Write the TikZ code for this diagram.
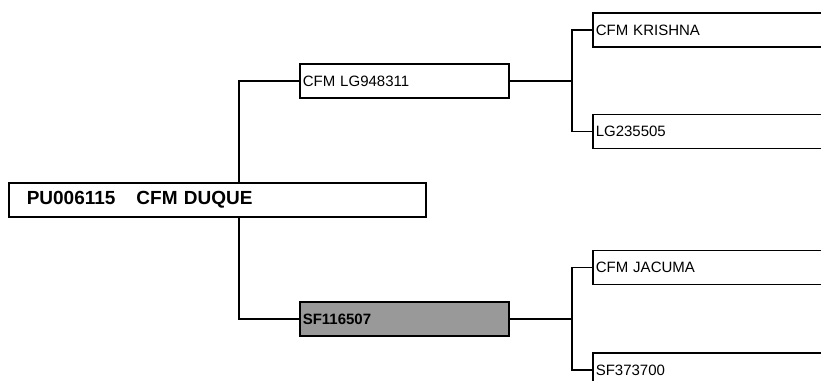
\documentclass[tikz,border=0pt]{standalone}
\usepackage{fontspec}
\setmainfont{Liberation Sans}
\usetikzlibrary{positioning}
\tikzset{
    horse/.style={rectangle, draw, line width=1.5pt, anchor=west, align=left, inner xsep=3pt, inner ysep=0pt, minimum height=34pt, font=\fontsize{15}{17}\selectfont},
    parent/.style={horse, text width=203pt},
    grand/.style={horse, text width=260pt},
    link/.style={line width=1.5pt}
}
\begin{document}
\begin{tikzpicture}[x=1pt, y=-1pt]
    \useasboundingbox (0,0) rectangle (821,380);
    \clip (0,0) rectangle (821,380);
    % main horse
    \node (root) [horse, text width=411pt, inner xsep=3pt, font=\fontsize{19}{21}\selectfont\bfseries] at (8,200) {\hspace{15pt}PU006115\hspace{21pt}CFM DUQUE};
    % parents
    \node (sire) [parent] at (299,81) {CFM LG948311};
    \node (dam) [parent, fill=black!40, font=\fontsize{15}{17}\selectfont\bfseries] at (299,319) {SF116507};
    % grandparents
    \node (sire-s) [grand] at (592,30) {CFM KRISHNA};
    \node (sire-d) [grand] at (592,131.5) {LG235505};
    \node (dam-s) [grand] at (592,267.5) {CFM JACUMA};
    \node (dam-d) [grand] at (592,370) {SF373700};
    \coordinate (fork-s) at (572,81);
    \coordinate (fork-d) at (572,319);

    \draw[link] (sire.west) -| ([xshift=21.5pt]root.north);
    \draw[link] (dam.west) -| ([xshift=21.5pt]root.south);
    \draw[link] (sire.east) -- (fork-s);
    \draw[link] (dam.east) -- (fork-d);
    \draw[link] (sire-s.west) -| (fork-s) |- (sire-d.west);
    \draw[link] (dam-s.west) -| (fork-d) |- (dam-d.west);
\end{tikzpicture}
\end{document}
